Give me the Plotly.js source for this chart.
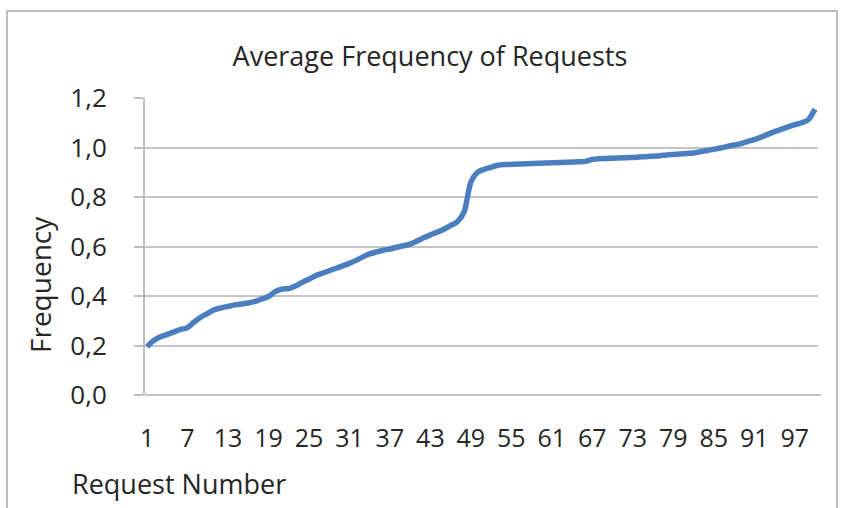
<!DOCTYPE html>
<html>
<head>
<meta charset="utf-8">
<script src="https://cdn.plot.ly/plotly-3.0.1.min.js"></script>
<style>html,body{margin:0;padding:0;background:#fff;}#chart{width:841px;height:508px;}</style>
</head>
<body>
<div id="chart"></div>
<script>
var requestNumbers = [];
for (var i = 1; i <= 100; i++) requestNumbers.push(i);

var frequency = [
  0.195, 0.220, 0.235, 0.245, 0.255, 0.265, 0.272, 0.295, 0.315, 0.330,
  0.345, 0.352, 0.358, 0.364, 0.368, 0.372, 0.378, 0.388, 0.398, 0.418,
  0.428, 0.430, 0.440, 0.455, 0.468, 0.482, 0.492, 0.502, 0.512, 0.522,
  0.532, 0.544, 0.558, 0.570, 0.578, 0.585, 0.590, 0.597, 0.603, 0.610,
  0.622, 0.635, 0.647, 0.658, 0.670, 0.685, 0.700, 0.740, 0.860, 0.900,
  0.912, 0.920, 0.928, 0.931, 0.932, 0.933, 0.934, 0.935, 0.936, 0.937,
  0.938, 0.939, 0.940, 0.941, 0.942, 0.944, 0.952, 0.955, 0.956, 0.957,
  0.958, 0.959, 0.960, 0.962, 0.963, 0.965, 0.967, 0.970, 0.972, 0.974,
  0.976, 0.978, 0.983, 0.988, 0.993, 0.998, 1.004, 1.010, 1.016, 1.024,
  1.032, 1.042, 1.053, 1.064, 1.073, 1.083, 1.092, 1.100, 1.112, 1.155
];

var xTickVals = [1, 7, 13, 19, 25, 31, 37, 43, 49, 55, 61, 67, 73, 79, 85, 91, 97];
var yTickVals = [0, 0.2, 0.4, 0.6, 0.8, 1.0, 1.2];
var yTickText = ["0,0", "0,2", "0,4", "0,6", "0,8", "1,0", "1,2"];

var FONT = "Open Sans, sans-serif";
var TXT = "#262626";

var trace = {
  x: requestNumbers,
  y: frequency,
  type: "scatter",
  mode: "lines",
  line: {color: "#4A7EBF", width: 5.5, shape: "spline", smoothing: 0.8},
  hoverinfo: "x+y"
};

var layout = {
  width: 841,
  height: 508,
  margin: {l: 145, r: 23, t: 98, b: 113},
  paper_bgcolor: "#ffffff",
  plot_bgcolor: "#ffffff",
  showlegend: false,
  font: {family: FONT, color: TXT, size: 24},
  title: {
    text: "Average Frequency of Requests",
    font: {family: FONT, size: 27, color: TXT},
    x: (430 - 145) / 673, xref: "paper", xanchor: "center",
    y: 1 - 57 / 508, yref: "container", yanchor: "middle"
  },
  xaxis: {
    range: [0.7, 100.45],
    tickmode: "array",
    tickvals: xTickVals,
    ticktext: xTickVals.map(String),
    showgrid: false,
    zeroline: false,
    showline: false,
    ticks: "",
    ticklabelstandoff: 26,
    tickfont: {family: FONT, size: 25, color: TXT},
    fixedrange: true
  },
  yaxis: {
    range: [0, 1.2],
    tickmode: "array",
    tickvals: yTickVals,
    ticktext: yTickText,
    showgrid: true,
    gridcolor: "#c4c4c4",
    gridwidth: 2,
    zeroline: false,
    showline: true,
    linecolor: "#bdbdbd",
    linewidth: 2,
    ticks: "outside",
    ticklen: 9,
    tickcolor: "#bdbdbd",
    tickwidth: 2,
    ticklabelstandoff: 22,
    tickfont: {family: FONT, size: 26, color: TXT},
    fixedrange: true
  },
  annotations: [{
    text: "Request Number",
    xref: "paper", yref: "paper",
    x: (70 - 145) / 673, y: (395 - 483) / 297,
    xanchor: "left", yanchor: "middle",
    showarrow: false,
    font: {family: FONT, size: 27, color: TXT}
  }, {
    text: "Frequency",
    xref: "paper", yref: "paper",
    x: (40 - 145) / 673, y: (395 - 285) / 297,
    xanchor: "center", yanchor: "middle",
    textangle: -90,
    showarrow: false,
    font: {family: FONT, size: 28, color: TXT}
  }],
  shapes: [
    {type: "line", xref: "paper", yref: "paper", x0: 0, x1: 1.0045, y0: 0, y1: 0,
     line: {color: "#c4c4c4", width: 2}, layer: "below"},
    {type: "path", xref: "paper", yref: "paper",
     path: "M " + ((7 - 145) / 673) + " -0.5 L " + ((7 - 145) / 673) + " " + (1 + (98 - 11) / 297) +
           " L " + ((837 - 145) / 673) + " " + (1 + (98 - 11) / 297) + " L " + ((837 - 145) / 673) + " -0.5",
     line: {color: "#a8a8a8", width: 1.5}}
  ]
};

Plotly.newPlot("chart", [trace], layout, {displayModeBar: false, staticPlot: true});
</script>
</body>
</html>
